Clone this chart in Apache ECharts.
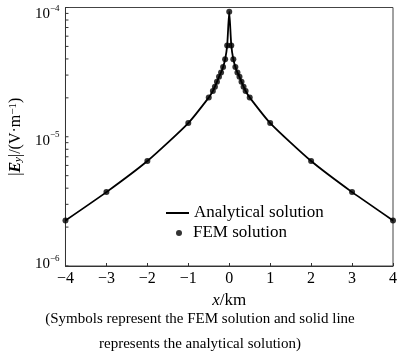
<!DOCTYPE html>
<html>
<head>
<meta charset="utf-8">
<script src="https://cdn.jsdelivr.net/npm/echarts@6/dist/echarts.min.js"></script>
<style>html,body{margin:0;padding:0;background:#fff}#c{width:400px;height:359px}</style>
</head>
<body>
<div id="c"></div>
<script>
// x positions (km)
var xKm = [-4, -3, -2, -1, -0.5, -0.4, -0.35, -0.3, -0.25, -0.2, -0.15, -0.1, -0.05, 0,
           0.05, 0.1, 0.15, 0.2, 0.25, 0.3, 0.35, 0.4, 0.5, 1, 2, 3, 4];
// analytical |Ey| (V/m)
var analytical = [2.25e-6, 3.73e-6, 6.49e-6, 1.276e-5, 2.01e-5, 2.26e-5, 2.44e-5, 2.66e-5, 2.91e-5, 3.14e-5, 3.47e-5, 3.97e-5, 5.09e-5, 9.27e-5,
                  5.09e-5, 3.97e-5, 3.47e-5, 3.14e-5, 2.91e-5, 2.66e-5, 2.44e-5, 2.26e-5, 2.01e-5, 1.276e-5, 6.49e-6, 3.73e-6, 2.25e-6];
// FEM |Ey| (V/m)
var fem = [2.25e-6, 3.73e-6, 6.49e-6, 1.276e-5, 2.01e-5, 2.26e-5, 2.44e-5, 2.66e-5, 2.91e-5, 3.14e-5, 3.47e-5, 3.97e-5, 5.09e-5, 9.27e-5,
           5.09e-5, 3.97e-5, 3.47e-5, 3.14e-5, 2.91e-5, 2.66e-5, 2.44e-5, 2.26e-5, 2.01e-5, 1.276e-5, 6.49e-6, 3.73e-6, 2.25e-6];
// axis ranges
var xRange = [-4, 4];
var yRange = [1e-6, 1e-4];
// y tick values (log decades and 2..9 subdivisions)
var yTickValues = [1e-6, 2e-6, 3e-6, 4e-6, 5e-6, 6e-6, 7e-6, 8e-6, 9e-6,
                   1e-5, 2e-5, 3e-5, 4e-5, 5e-5, 6e-5, 7e-5, 8e-5, 9e-5, 1e-4];
var seriesNames = ['Analytical solution', 'FEM solution'];
var captionLines = ['(Symbols represent the FEM solution and solid line', 'represents the analytical solution)'];

var FONT = "'Liberation Serif', 'Times New Roman', serif";
var chart = echarts.init(document.getElementById('c'), null, {renderer: 'canvas'});

function pairs(xs, ys) { return xs.map(function (x, i) { return [x, ys[i]]; }); }

function labelRich() {
  var base = {fontFamily: FONT, color: '#000', verticalAlign: 'top'};
  function b(p) { return Object.assign({fontSize: 15, lineHeight: 15, padding: p}, base); }
  function s(p) { return Object.assign({fontSize: 9, lineHeight: 9, padding: p}, base); }
  return {
    bT: b([7, 0, 0, 0]), sT: s([4, 0, 0, 0]),
    bM: b([4, 0, 0, 0]), sM: s([1, 0, 0, 0]),
    bB: b([6, 0, 0, 0]), sB: s([3, 0, 0, 0])
  };
}

var option = {
  animation: false,
  textStyle: {fontFamily: FONT, color: '#000'},
  grid: {left: 63, right: 4, top: 5, bottom: 93, show: true, borderColor: '#444', borderWidth: 1, containLabel: false},
  legend: [
    {data: [{name: seriesNames[0], icon: 'rect'}], left: 166, top: 204.5, padding: 0, itemWidth: 23, itemHeight: 2, itemGap: 0,
     textStyle: {fontFamily: FONT, fontSize: 17, color: '#000'}},
    {data: [{name: seriesNames[1], icon: 'circle'}], left: 176, top: 224.5, padding: 0, itemWidth: 6, itemHeight: 6, itemGap: 0,
     textStyle: {fontFamily: FONT, fontSize: 17, color: '#000', padding: [0, 0, 0, 6]}}
  ],
  xAxis: {
    type: 'value', min: xRange[0], max: xRange[1], interval: 1,
    name: '{i|x}/km', nameLocation: 'middle', nameGap: 22,
    nameTextStyle: {fontFamily: FONT, fontSize: 17, color: '#000', rich: {i: {fontFamily: FONT, fontSize: 17, fontStyle: 'italic', color: '#000'}}},
    axisLine: {onZero: false, lineStyle: {color: '#333', width: 1}},
    axisTick: {inside: true, length: 3, lineStyle: {color: '#333'}},
    axisLabel: {margin: 5, fontFamily: FONT, fontSize: 16, color: '#000',
      formatter: function (v) { return v < 0 ? '\u2212' + Math.abs(v) : String(v); }},
    splitLine: {show: false}
  },
  yAxis: {
    type: 'log', logBase: 10, min: yRange[0], max: yRange[1], interval: 1,
    name: '|{e|E}{sub|y}|/(V\u00b7m{sup|\u22121})', nameLocation: 'middle', nameGap: 35, nameRotate: 90,
    nameTextStyle: {fontFamily: FONT, fontSize: 16, color: '#000', rich: {
      e: {fontFamily: FONT, fontSize: 16, fontStyle: 'italic', fontWeight: 'bold', color: '#000'},
      sub: {fontFamily: FONT, fontSize: 11, fontStyle: 'italic', color: '#000', verticalAlign: 'bottom'},
      sup: {fontFamily: FONT, fontSize: 11, color: '#000', verticalAlign: 'top'}
    }},
    axisLine: {onZero: false, lineStyle: {color: '#333', width: 1}},
    axisTick: {show: false},
    axisLabel: {margin: 6, color: '#000', verticalAlignMinLabel: 'bottom',
      formatter: function (v) {
        var e = Math.round(Math.log(v) / Math.LN10);
        var k = v >= yRange[1] ? 'T' : (v <= yRange[0] ? 'B' : 'M');
        return '{b' + k + '|10}{s' + k + '|' + (e < 0 ? '\u2212' : '') + Math.abs(e) + '}';
      },
      rich: labelRich()
    },
    splitLine: {show: false}
  },
  graphic: [
    {type: 'text', left: 'center', top: 312, style: {text: captionLines[0], font: '15px ' + FONT, fill: '#000'}},
    {type: 'text', left: 'center', top: 337, style: {text: captionLines[1], font: '15px ' + FONT, fill: '#000'}}
  ],
  series: [
    {name: 'yTicks', type: 'custom', silent: true, z: 1,
     data: yTickValues.map(function (v) { return [xRange[0], v]; }),
     renderItem: function (params, api) {
       var p = api.coord([api.value(0), api.value(1)]);
       return {type: 'line', shape: {x1: p[0], y1: p[1], x2: p[0] + 3, y2: p[1]},
               style: {stroke: '#333', lineWidth: 1}};
     }},
    {name: seriesNames[0], type: 'line', data: pairs(xKm, analytical),
     showSymbol: false, symbol: 'none', smooth: 0.2,
     lineStyle: {color: '#000', width: 1.8}, itemStyle: {color: '#000'}, z: 2},
    {name: seriesNames[1], type: 'scatter', data: pairs(xKm, fem),
     symbol: 'circle', symbolSize: 6, itemStyle: {color: '#000'}, z: 3}
  ]
};
chart.setOption(option);
</script>
</body>
</html>
